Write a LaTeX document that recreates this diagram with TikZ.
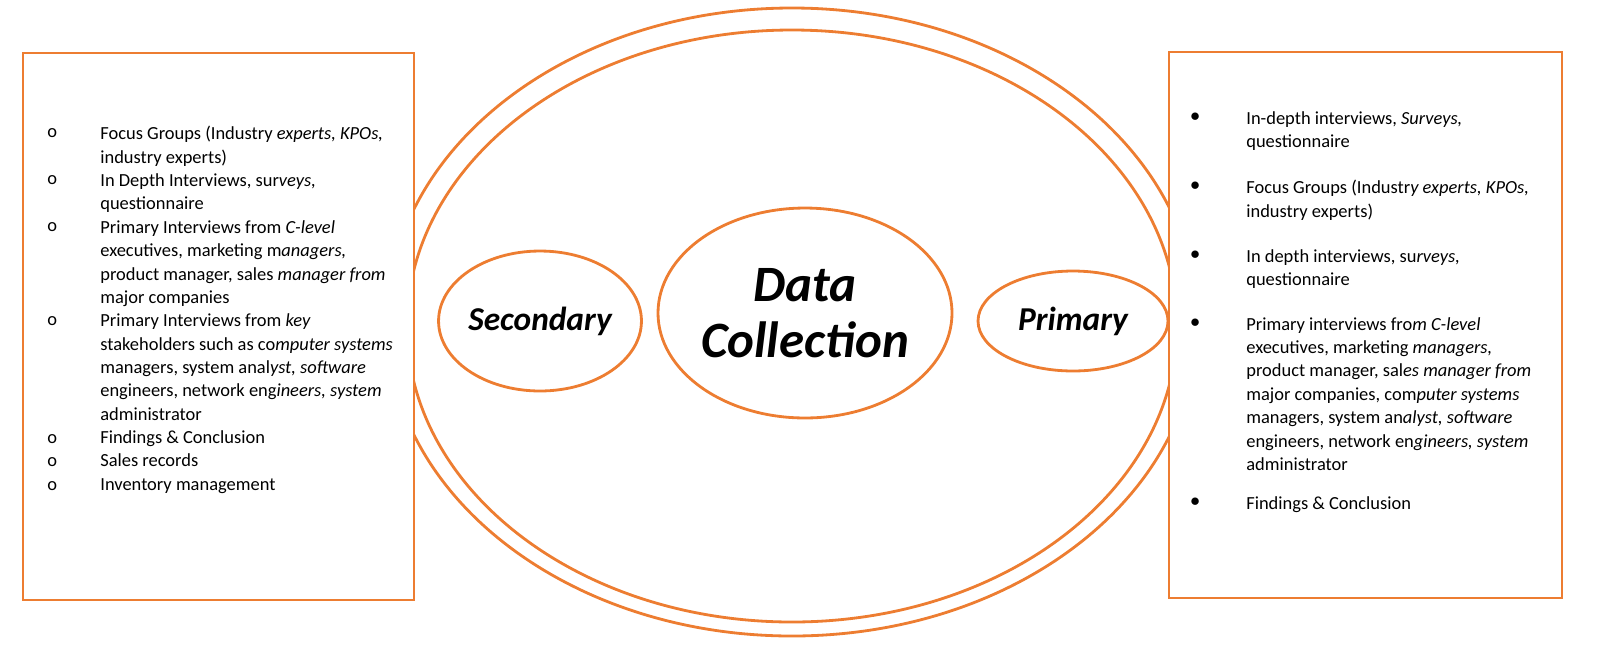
\documentclass[tikz,border=0pt]{standalone}
\usepackage{fontspec}
\usetikzlibrary{shapes.geometric}
\setmainfont{Carlito}
\definecolor{accent}{HTML}{ED7D31}
\tikzset{
  frame/.style={draw=accent,line width=1.6pt,fill=white},
  ring/.style={draw=accent,line width=1.6pt,ellipse,inner sep=0pt,
    font=\bfseries\itshape,align=center},
  item/.style={anchor=north west,inner sep=0pt,align=left,
    font=\fontsize{10.5}{13.3}\selectfont},
  dotmark/.style={anchor=north west,inner sep=0pt,font=\fontsize{10.5}{13.3}\selectfont},
}
\begin{document}
\begin{tikzpicture}[x=0.02cm,y=-0.02cm]
    \useasboundingbox (0,0) rectangle (1608,664);
    \draw[draw=accent,line width=1.6pt] (792,322) ellipse [x radius=405,y radius=314];
    \draw[draw=accent,line width=1.6pt] (792,326) ellipse [x radius=385,y radius=296];
    \draw[frame] (23,53) rectangle (414,600);
    \draw[frame] (1169,52) rectangle (1562,598);

    \node[ring,minimum width=3.92cm,minimum height=2.8cm,font=\fontsize{19}{24}\selectfont\bfseries\itshape]
        (SEC) at (540,321) {Secondary};
    \node[ring,minimum width=5.68cm,minimum height=4.2cm,font=\fontsize{29}{32}\selectfont\bfseries\itshape]
        (DC) at (805,313) {Data\\Collection};
    \node[ring,minimum width=3.8cm,minimum height=2cm,font=\fontsize{19}{24}\selectfont\bfseries\itshape]
        (PRI) at (1073,321) {Primary};

    % secondary sources
    \foreach \y in {128,175,222,316,434,457,481}
        \node[dotmark] at (47,\y) {o};
    \node[item] (S1) at (100,126) {Focus Groups (Industry \textit{experts, KPOs,}\\industry experts)\\
      In Depth Interviews, sur\textit{veys,}\\questionnaire\\
      Primary Interviews from \textit{C-level}\\executives, marketing m\textit{anagers,}\\
      product manager, sales \textit{manager from}\\major companies\\
      Primary Interviews from \textit{key}\\stakeholders such as co\textit{mputer systems}\\
      managers, system anal\textit{yst, software}\\engineers, network eng\textit{ineers, system}\\
      administrator\\Findings \& Conclusion\\Sales records\\Inventory management};

    % primary sources
    \foreach \y in {113,182,251,319,498}
        \node[dotmark] at (1190,\y) {$\bullet$};
    \node[item] (P1) at (1246,111) {In-depth interviews, \textit{Surveys,}\\questionnaire};
    \node[item] (P2) at (1246,180) {Focus Groups (Industr\textit{y experts, KPOs,}\\industry experts)};
    \node[item] (P3) at (1246,249) {In depth interviews, su\textit{rveys,}\\questionnaire};
    \node[item] (P4) at (1246,317) {Primary interviews fro\textit{m C-level}\\executives, marketing \textit{managers,}\\
      product manager, sal\textit{es manager from}\\major companies, com\textit{puter systems}\\
      managers, system an\textit{alyst, software}\\engineers, network en\textit{gineers, system}\\administrator};
    \node[item] (P5) at (1246,496) {Findings \& Conclusion};
\end{tikzpicture}
\end{document}
